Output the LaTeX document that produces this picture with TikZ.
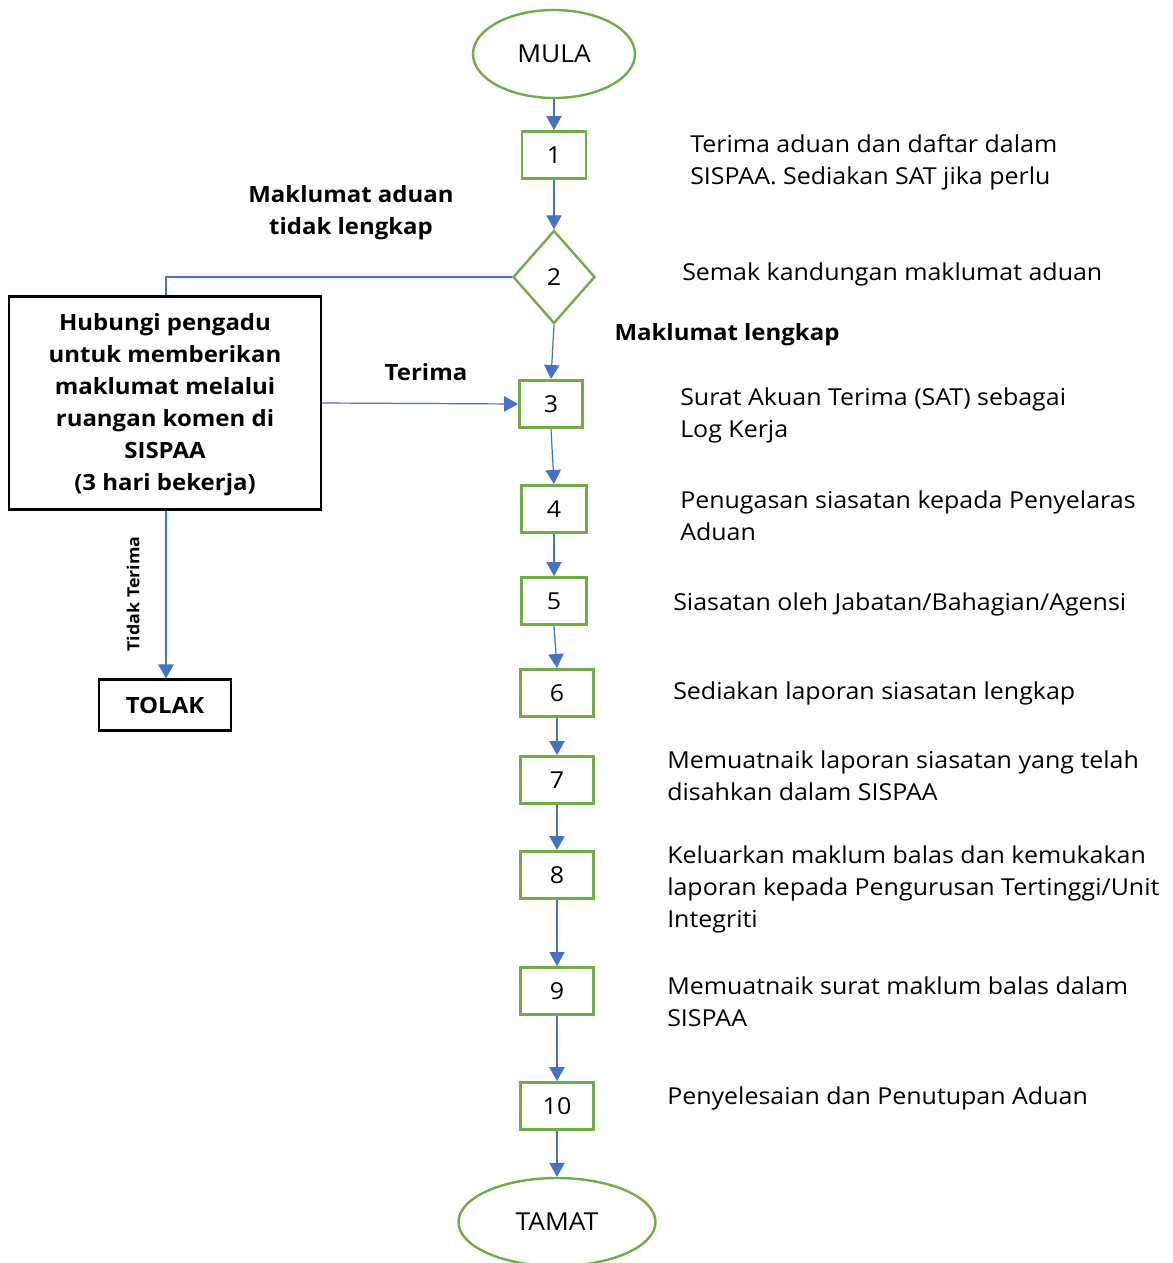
\documentclass[tikz,border=0pt]{standalone}
\usepackage{fontspec}
\setmainfont[FakeStretch=1.07]{Open Sans}
\usetikzlibrary{shapes.geometric,arrows.meta}
\definecolor{gr}{RGB}{112,173,71}
\definecolor{bl}{RGB}{68,114,196}
\tikzset{
  every node/.style={font=\fontsize{17.5}{24}\selectfont, inner sep=0pt},
  gbox/.style={draw=gr, line width=2pt, minimum height=35.5pt},
  term/.style={ellipse, draw=gr, line width=1.8pt, minimum height=66pt, font=\fontsize{18.5}{24}\selectfont},
  dec/.style={diamond, draw=gr, line width=1.8pt, minimum width=61.5pt, minimum height=69.75pt},
  kbox/.style={draw=black, line width=1.8pt},
  conn/.style={draw=bl, line width=0.9pt},
  arr/.style={conn, -{Triangle[width=11.5pt,length=10.5pt]}},
  desc/.style={anchor=west, align=left},
  lbl/.style={font=\fontsize{16.8}{24}\bfseries\selectfont, align=center},
}
\begin{document}
\begin{tikzpicture}[x=0.75pt,y=-0.75pt]
\useasboundingbox (0,0) rectangle (1172,1263);
\fill[white] (0,0) rectangle (1172,1263);
% main column
\node[term, minimum width=121.5pt] (mula) at (554,54) {MULA};
\node[gbox, minimum width=48pt] (b1) at (554,155) {1};
\node[dec] (b2) at (554,277) {2};
\node[gbox, minimum width=47.25pt] (b3) at (551,404) {3};
\node[gbox, minimum width=48.75pt] (b4) at (554,509) {4};
\node[gbox, minimum width=48.75pt] (b5) at (554,601) {5};
\node[gbox, minimum width=54.75pt] (b6) at (557,693) {6};
\node[gbox, minimum width=54.75pt] (b7) at (557,780) {7};
\node[gbox, minimum width=54.75pt] (b8) at (557,875) {8};
\node[gbox, minimum width=54.75pt] (b9) at (557,991) {9};
\node[gbox, minimum width=54.75pt] (b10) at (557,1106) {10};
\node[term, minimum width=147.75pt] (tamat) at (557,1222) {TAMAT};
% left side
\node[kbox, minimum width=234pt, minimum height=160pt] (hub) at (165,403) {};
\node[lbl] (hubt) at (165,405) {Hubungi pengadu\\untuk memberikan\\maklumat melalui\\ruangan komen di\\SISPAA\\(3 hari bekerja)};
\node[kbox, minimum width=99pt, minimum height=38pt, font=\fontsize{16.8}{24}\bfseries\selectfont] (tolak) at (165,705) {TOLAK};
\coordinate (c2) at (166,277);
% connectors
\draw[arr] (mula) -- (b1);
\draw[arr] (b1) -- (b2);
\draw[arr] (b2.south) -- (b3.north);
\draw[arr] (b3.south) -- (b4.north);
\draw[arr] (b4.south) -- (b5.north);
\draw[arr] (b5.south) -- (b6.north);
\draw[arr] (b6) -- (b7);
\draw[arr] (b7) -- (b8);
\draw[arr] (b8) -- (b9);
\draw[arr] (b9) -- (b10);
\draw[arr] (b10) -- (tamat);
\draw[conn] (b2.west) -- (c2) -- (c2 |- hub.north);
\draw[arr] (hub.east) -- (b3.west);
\draw[arr] (hub.south -| c2) -- (tolak.north -| c2);
% labels
\node[lbl] (l1) at (351,213) {Maklumat aduan\\tidak lengkap};
\node[lbl] (l2) at (727,335) {Maklumat lengkap};
\node[lbl] (l3) at (426,372) {Terima};
\node[lbl, rotate=90, font=\fontsize{12.5}{18}\bfseries\selectfont] (l4) at (133,594) {Tidak Terima};
% descriptions
\node[desc] (d1) at (690,162) {Terima aduan dan daftar dalam\\SISPAA. Sediakan SAT jika perlu};
\node[desc] (d2) at (682,274) {Semak kandungan maklumat aduan};
\node[desc] (d3) at (680,415) {Surat Akuan Terima (SAT) sebagai\\Log Kerja};
\node[desc] (d4) at (680,516) {Penugasan siasatan kepada Penyelaras\\Aduan};
\node[desc] (d5) at (673,604) {Siasatan oleh Jabatan/Bahagian/Agensi};
\node[desc] (d6) at (673,693) {Sediakan laporan siasatan lengkap};
\node[desc] (d7) at (667,776) {Memuatnaik laporan siasatan yang telah\\disahkan dalam SISPAA};
\node[desc] (d8) at (667,889) {Keluarkan maklum balas dan kemukakan\\laporan kepada Pengurusan Tertinggi/Unit\\Integriti};
\node[desc] (d9) at (667,1002) {Memuatnaik surat maklum balas dalam\\SISPAA};
\node[desc] (d10) at (667,1098) {Penyelesaian dan Penutupan Aduan};
\end{tikzpicture}
\end{document}
